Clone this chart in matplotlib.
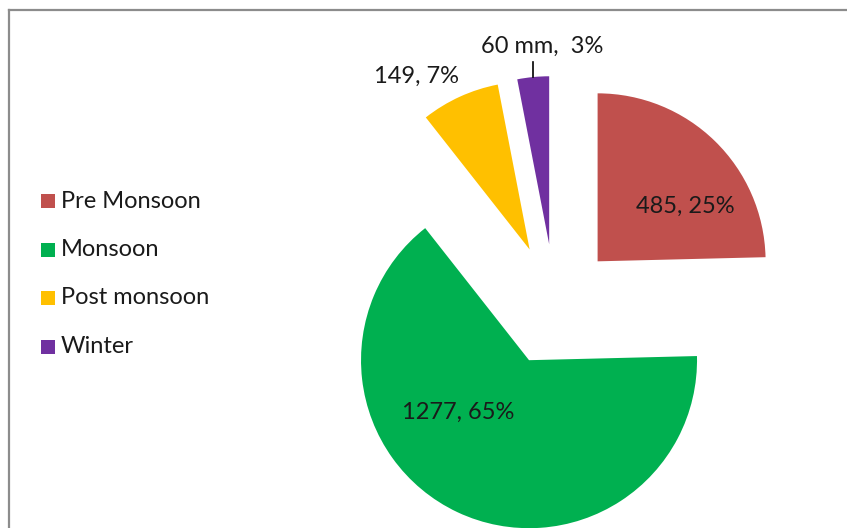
import numpy as np
import matplotlib
matplotlib.use("Agg")
import matplotlib.pyplot as plt
from matplotlib.patches import Rectangle
from matplotlib.lines import Line2D

plt.rcParams['font.family'] = ['Lato', 'DejaVu Sans']

# seasonal rainfall (mm)
seasons = ["Pre Monsoon", "Monsoon", "Post monsoon", "Winter"]
rainfall = [485, 1277, 149, 60]
value_labels = ["485, 25%", "1277, 65%", "149, 7%", "60 mm,  3%"]
colors = ["#C0504D", "#00B050", "#FFC000", "#7030A0"]

W, H = 847, 528
fig = plt.figure(figsize=(W / 100, H / 100), dpi=100)
ax = fig.add_axes([0, 0, 1, 1])

# work in pixel units, y measured upward
radius = 168
center = (555, H - 305)
explode = [61] * len(rainfall)

wedges, _ = ax.pie(rainfall, colors=colors, radius=radius, center=center,
                   explode=explode, startangle=90, counterclock=False,
                   wedgeprops=dict(linewidth=0))

FS = 17
# label placement: (distance from wedge apex, angle in degrees)
label_polar = [(103, 32), (88, 216), (207, 123), (None, None)]
for w, txt, (d, a) in zip(wedges, value_labels, label_polar):
    cx, cy = w.center
    if d is None:
        # small slice: leader line straight up from the rim
        mid = np.deg2rad((w.theta1 + w.theta2) / 2)
        ex, ey = cx + radius * np.cos(mid), cy + radius * np.sin(mid)
        ax.plot([ex, ex], [ey, ey + 15], color="black", lw=1.2)
        ax.text(ex + 9, ey + 31, txt, ha="center", va="center", fontsize=FS,
                color="#1a1a1a")
    else:
        t = np.deg2rad(a)
        ax.text(cx + d * np.cos(t), cy + d * np.sin(t), txt, ha="center",
                va="center", fontsize=FS, color="#1a1a1a")

# legend drawn by hand
for i, (name, c) in enumerate(zip(seasons, colors)):
    y = H - (201 + i * 48.5)
    ax.add_patch(Rectangle((41, y - 7), 14, 14, facecolor=c, edgecolor="none"))
    ax.text(61, y, name, ha="left", va="center", fontsize=FS, color="#1a1a1a")

ax.set_xlim(0, W)
ax.set_ylim(0, H)
ax.axis("off")

# chart frame (runs off the right and bottom)
fig.add_artist(Line2D([8.5 / W, 8.5 / W], [0, 1 - 9.5 / H], color="#8c8c8c", lw=1.6))
fig.add_artist(Line2D([8.5 / W, 1], [1 - 9.5 / H, 1 - 9.5 / H], color="#8c8c8c", lw=1.6))

fig.savefig("out.png", dpi=100)
